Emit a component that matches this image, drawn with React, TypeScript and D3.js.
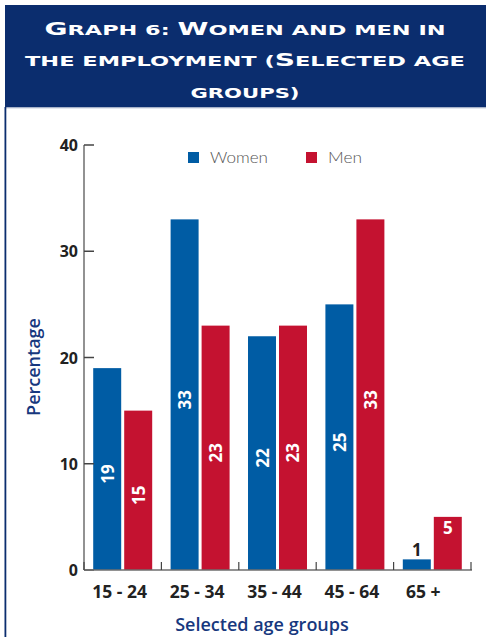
import React from "react";
import * as d3 from "d3";

const categories = ["15 - 24", "25 - 34", "35 - 44", "45 - 64", "65 +"];
const seriesNames = ["Women", "Men"];
const women = [19, 33, 22, 25, 1];
const men = [15, 23, 23, 33, 5];
const yTicks = [0, 10, 20, 30, 40];

const W = 486;
const H = 637;
const NAVY = "#0b2d6e";
const BLUE = "#005ca4";
const RED = "#c41230";
const TEXTNAVY = "#17387e";

const titleLines: { parts: [string, boolean][]; y: number; width: number }[] = [
  { parts: [["G", true], ["RAPH 6: ", false], ["W", true], ["OMEN AND MEN IN", false]], y: 35, width: 401 },
  { parts: [["THE EMPLOYMENT (", false], ["S", true], ["ELECTED AGE", false]], y: 66, width: 440 },
  { parts: [["GROUPS)", false]], y: 98, width: 109 },
];

export default function App() {
  const x = d3.scaleBand<string>().domain(categories).range([84, 471]).paddingInner(0).paddingOuter(0);
  const inner = d3
    .scaleBand<string>()
    .domain(seriesNames)
    .range([0, x.bandwidth()])
    .paddingInner(0.097)
    .paddingOuter(0.297);
  const y = d3.scaleLinear().domain([0, 40]).range([570, 145]);
  const colors = d3.scaleOrdinal<string, string>().domain(seriesNames).range([BLUE, RED]);
  const series = [women, men];
  const labelFont = "'Open Sans', sans-serif";

  return (
    <div style={{ position: "absolute", left: 0, top: 0 }}>
      <svg width={W} height={H} style={{ display: "block" }}>
        <rect x={0} y={0} width={W} height={H} fill="#fff" />
        {/* banner */}
        <rect x={5} y={5} width={W - 5} height={102.5} fill={NAVY} />
        <rect x={5} y={107.5} width={W - 5} height={1} fill="#c9d0dc" />
        <rect x={4.5} y={107} width={1.8} height={H - 107} fill={NAVY} />
        {titleLines.map((ln, i) => (
          <text
            key={i}
            x={245}
            y={ln.y}
            textAnchor="middle"
            fill="#fff"
            fontFamily="'DejaVu Sans', sans-serif"
            fontWeight="bold"
            textLength={ln.width}
            lengthAdjust="spacingAndGlyphs"
          >
            {ln.parts.map(([t, cap], j) => (
              <tspan key={j} fontSize={cap ? 17.5 : 14}>
                {t}
              </tspan>
            ))}
          </text>
        ))}

        {/* legend */}
        {seriesNames.map((s, i) => {
          const lx = [188, 306][i];
          return (
            <g key={s}>
              <rect x={lx} y={152} width={11} height={11} fill={colors(s)} />
              <text
                x={lx + 22}
                y={163}
                fontSize={16}
                fill="#555"
                fontFamily="Lato, 'DejaVu Sans', sans-serif"
                fontWeight={300}
                textLength={[58, 34][i]}
                lengthAdjust="spacingAndGlyphs"
              >
                {s}
              </text>
            </g>
          );
        })}

        {/* bars */}
        {categories.map((c, ci) => (
          <g key={c} transform={`translate(${x(c)},0)`}>
            {seriesNames.map((s, si) => {
              const v = series[si][ci];
              const bx = inner(s)!;
              const bw = inner.bandwidth();
              const cx = bx + bw / 2;
              const rotated = v >= 10;
              return (
                <g key={s}>
                  <rect x={bx} y={y(v)} width={bw} height={y(0) - y(v)} fill={colors(s)} />
                  {rotated ? (
                    <text
                      transform={`translate(${cx},${y(v / 2) + 5}) rotate(-90)`}
                      textAnchor="middle"
                      dominantBaseline="central"
                      fill="#fff"
                      fontSize={17}
                      fontWeight="bold"
                      fontFamily={labelFont}
                    >
                      {v}
                    </text>
                  ) : v >= 3 ? (
                    <text
                      x={cx}
                      y={y(v) + 17}
                      textAnchor="middle"
                      fill="#fff"
                      fontSize={17}
                      fontWeight="bold"
                      fontFamily={labelFont}
                    >
                      {v}
                    </text>
                  ) : (
                    <text
                      x={cx}
                      y={y(v) - 3}
                      textAnchor="middle"
                      fill="#222"
                      fontSize={17}
                      fontWeight="bold"
                      fontFamily={labelFont}
                    >
                      {v}
                    </text>
                  )}
                </g>
              );
            })}
          </g>
        ))}

        {/* y axis */}
        <line x1={84} x2={84} y1={145} y2={570} stroke="#6e6e6e" strokeWidth={1.5} />
        {yTicks.map((t) => (
          <g key={t}>
            <line x1={84} x2={94} y1={y(t)} y2={y(t)} stroke="#444" strokeWidth={1.5} />
            <text
              x={78}
              y={y(t)}
              textAnchor="end"
              dominantBaseline="central"
              fontSize={16}
              fontWeight="bold"
              fill="#222"
              fontFamily={labelFont}
            >
              {t}
            </text>
          </g>
        ))}

        {/* x axis */}
        <line x1={84} x2={472} y1={570} y2={570} stroke="#6e6e6e" strokeWidth={1.5} />
        {[...categories.map((c) => x(c)!), x.range()[1]].map((px, i) => (
          <line key={i} x1={px} x2={px} y1={570} y2={562} stroke="#444" strokeWidth={1.2} />
        ))}
        {categories.map((c, i) => (
          <text
            key={c}
            x={x(c)! + x.bandwidth() / 2 - (i === categories.length - 1 ? 9 : 3)}
            y={598}
            textAnchor="middle"
            fontSize={17.5}
            fontWeight="bold"
            fill="#222"
            fontFamily={labelFont}
          >
            {c}
          </text>
        ))}

        {/* axis titles */}
        <text
          transform={`translate(33,367) rotate(-90)`}
          textAnchor="middle"
          dominantBaseline="central"
          fontSize={18}
          fontWeight={600}
          fill={TEXTNAVY}
          fontFamily={labelFont}
        >
          Percentage
        </text>
        <text
          x={262}
          y={631}
          textAnchor="middle"
          fontSize={18}
          fontWeight={600}
          fill={TEXTNAVY}
          fontFamily={labelFont}
        >
          Selected age groups
        </text>
      </svg>
    </div>
  );
}
